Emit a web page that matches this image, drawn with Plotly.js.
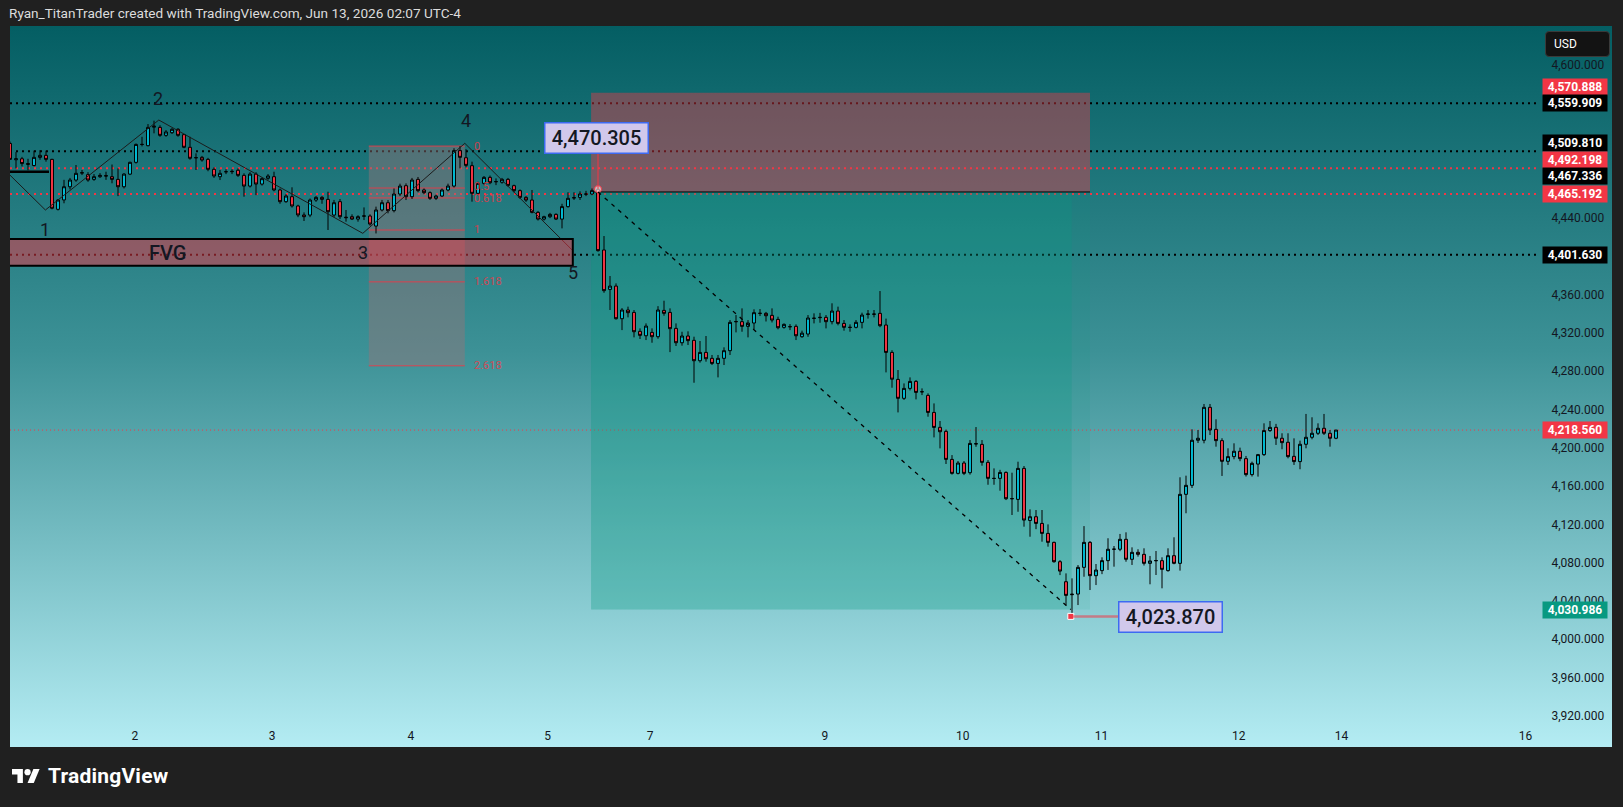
<!DOCTYPE html>
<html>
<head>
<meta charset="utf-8">
<script src="https://cdn.plot.ly/plotly-3.0.1.min.js"></script>
<style>
  html, body { margin:0; padding:0; background:#202020; width:1623px; height:807px; overflow:hidden; }
  #bg { position:absolute; left:10px; top:26px; width:1602px; height:721px;
        background: linear-gradient(to bottom, rgb(4,94,99) 0%, rgb(60,145,150) 45%, rgb(180,236,243) 100%); }
  #chart { position:absolute; left:0; top:0; width:1623px; height:807px; }
  #hdr { position:absolute; left:9px; top:5px; font:13.6px Roboto, sans-serif; color:#dcdcdc; white-space:nowrap; }
  #usd { position:absolute; left:1545px; top:31px; width:55px; height:24px; background:#131313; border:1px solid #3a3a3a;
         border-radius:4px; color:#fff; font:12px Roboto, sans-serif; line-height:24px; padding-left:8px; }
  #logo { position:absolute; left:12px; top:763px; height:26px; display:flex; align-items:center; color:#fff;
          font:bold 21px Roboto, sans-serif; letter-spacing:0.2px; }
  #logo svg { margin-right:8px; }
</style>
</head>
<body>
<div id="bg"></div>
<div id="chart"></div>
<div id="hdr">Ryan_TitanTrader created with TradingView.com, Jun 13, 2026 02:07 UTC-4</div>
<div id="usd">USD</div>
<div id="logo"><svg width="28" height="21" viewBox="0 0 36 27"><path d="M14 22H7V11H0V4h14v18z" fill="#fff"/><circle cx="20" cy="8" r="4" fill="#fff"/><path d="M28 22h-8l7.5-18h8L28 22z" fill="#fff"/></svg>TradingView</div>
<script>
// ---- hourly candles ----
const open = [4518,4501,4502,4496,4495,4503.5,4505.6,4501.4,4449.2,4459,4472.8,4479.8,4487,4485.4,4480.5,4483.3,4484.5,4483.3,4480.5,4472.8,
4486,4498.3,4517,4515.7,4535,4534.8,4526.5,4529.3,4532.8,4527.2,4514,4503,4503.5,4501.4,4491,4483.3,4488.5,4488.5,4490,4484.7,
4473.5,4486,4475.6,4481.6,4483.3,4469.4,4457.2,4462.4,4452.7,4443.3,4443.2,4458.9,4461.7,4459.6,4443.2,4457.2,4441,4441.5,4439,4442,
4442.2,4431.7,4448.5,4456.1,4447.8,4465.2,4473.9,4462.4,4480.5,4469.4,4466.6,4460.7,4463.1,4469.4,4473.5,4510.5,4503.1,4494.8,4465.9,4476.3,
4482.6,4478,4477.5,4480.5,4473.9,4468.7,4461.7,4458.9,4446,4439,4441.5,4443.9,4439,4452,4461,4461.7,4465,4465.2,4470,4406.7,
4365.5,4369,4334.9,4344,4341.5,4321.7,4317.1,4320.6,4316.1,4343.6,4341.5,4324.8,4309.8,4316.8,4312.3,4291,4299.7,4293.5,4288.2,4293.5,
4301.5,4332,4331.8,4326.9,4330.4,4340.5,4340.5,4338.4,4334.2,4325.9,4326.7,4326.9,4316.1,4318.9,4335.2,4336,4336.3,4331.8,4342.9,4330,
4325.9,4325.9,4331.1,4339.4,4339.8,4340.5,4328.3,4299.7,4271.5,4251.7,4262.1,4269.4,4258.5,4254.8,4237,4221.4,4217.2,4187.9,4173.3,4184.1,
4174,4204,4203.6,4184.8,4168.1,4168.1,4174.3,4147,4146.1,4178.5,4124.1,4128,4121,4110.6,4101.2,4081,4060.1,4046.5,4047.2,4075.1,
4101.2,4066.4,4071.7,4082.1,4094,4094,4104.4,4083.5,4090.8,4088.7,4079.3,4082,4082.1,4071.7,4087.3,4079.3,4151.4,4160.8,4207.9,4207.9,
4242.3,4219.3,4207.5,4185.9,4190.8,4196.4,4188.7,4172,4183,4192.9,4218,4221.4,4210,4205.8,4191.1,4185.6,4203.7,4211,4215.2,4220.4,
4215.2,4210];
const high = [4520,4509,4504,4502,4510.5,4511,4510.5,4502,4460,4480,4482,4495.5,4490.3,4488,4486,4487,4488.5,4496,4492,4487,
4499,4518,4525,4538.3,4541.8,4537,4532,4534,4534,4528,4525,4507.7,4505,4503,4493,4490.3,4491,4491,4492,4486.8,
4488,4488,4482.5,4486,4488.5,4471,4465,4472.2,4454,4446,4460.5,4463,4463,4467.6,4459,4460,4448.5,4444,4443,4451.2,
4444,4452,4459,4458.9,4471,4476,4476.3,4482,4483,4471,4468,4464.5,4471,4476,4513,4515.3,4512,4499,4478,4484,
4484.5,4481.5,4482,4482,4475,4470,4463,4469.4,4447.5,4442.5,4445.5,4445,4455,4467,4467,4468,4468.5,4471,4470.305,4421.3,
4379.5,4371.8,4346,4347.5,4344,4324.8,4330,4324.8,4348,4353.7,4345.7,4330,4321.3,4321.7,4316.1,4311.6,4316.8,4297,4297,4305,
4333.5,4338.7,4345.7,4333.5,4344.7,4345,4342,4345.7,4337,4330,4329.3,4329,4322.4,4338.7,4340.5,4341,4338.7,4351,4347.5,4333.5,
4329,4333.5,4341.2,4344,4344,4363.8,4335,4302,4281.3,4267.3,4273.6,4270.8,4262.1,4256.9,4246.4,4228,4219,4192.4,4186.2,4186.2,
4208.1,4221.7,4208.1,4187.2,4178.5,4177,4175.4,4174,4185.5,4181,4135.7,4135,4135,4120,4102,4082.7,4068.8,4063.6,4077.5,4118.2,
4102.6,4078.6,4085.6,4105.5,4097.4,4110,4111.7,4096,4094,4095,4087,4092.2,4085.6,4095,4106.5,4169.2,4170.9,4219.3,4218.6,4245.8,
4245.8,4229.8,4210,4199.5,4204.7,4200.2,4191.5,4185.6,4193.6,4225.6,4228,4225,4215.2,4215.2,4209.9,4207.5,4235.4,4231.9,4225.6,4235.4,
4218.6,4218.6];
const low = [4501,4492,4494,4490,4494,4501,4499,4449.2,4448,4455.5,4470,4478,4485,4478,4479,4482,4480,4476.4,4463,4471,
4485,4497,4515,4515,4528.6,4525,4525,4528,4525,4513,4501,4490.3,4499,4489,4482,4479.8,4486,4486,4483,4462.4,
4472,4464,4474,4480,4468,4455,4456,4451,4441,4437,4441,4457,4455,4427.6,4441,4439,4436.3,4438,4436.3,4438,
4432,4424,4447,4445,4446,4463,4458.9,4460,4467,4465,4459,4458.9,4462,4468,4472,4492,4493,4457.2,4464,4475,
4475.5,4474.5,4476,4472.8,4467,4460,4457,4445,4437.5,4437.5,4440,4438,4429.3,4451,4459,4459,4463,4464,4405,4362,
4344,4334,4323,4336.3,4315.4,4313.7,4312.6,4309.8,4314,4338,4300,4306.4,4306.7,4307.4,4268,4289,4290,4286.5,4273.6,4286.5,
4297,4320.6,4321.3,4315.4,4323.8,4337.7,4332,4331,4323.8,4324.5,4323,4312.6,4315,4316,4330,4330.7,4324.8,4329,4328,4322.4,
4321.3,4324.8,4324.8,4335,4336.3,4326,4278.8,4262.8,4237,4250,4260,4250.6,4255.1,4232.5,4210.9,4199.4,4183.1,4172,4172.2,4171.5,
4172,4201.1,4181.3,4161.4,4161.4,4155.2,4145.4,4129.8,4133.2,4117.6,4107.1,4115,4101.9,4096.7,4080,4067,4035.7,4023.87,4035.7,4065.3,
4051.4,4056.6,4068,4072.4,4075.8,4092,4081,4077.6,4086.3,4077,4057.4,4067.1,4053.2,4070.6,4078.3,4071.7,4131.6,4158,4205,4204.7,
4213.4,4201.2,4170.6,4182.1,4188,4186,4170,4170,4169.9,4191.5,4216.6,4203,4198.5,4189,4182.1,4177.6,4199.5,4208.9,4213.4,4213.4,
4201.2,4209];
const close = [4501.4,4502,4497,4497,4503.5,4505.6,4501.4,4450.3,4458.9,4472.8,4479.8,4486.8,4487.5,4479.8,4483.3,4484.7,4484,4480.5,4472.8,4486,
4498.3,4517,4517,4534.8,4536,4526.5,4530,4532.8,4526.5,4514,4502.5,4503.2,4500.7,4491,4484,4486.8,4488.5,4488.8,4484.7,4473.5,
4486,4475.6,4481.2,4484,4469.4,4457.2,4463.1,4452.7,4443.3,4441.5,4458.9,4461.7,4459.6,4446.7,4456.1,4441.5,4440.5,4439,4441.5,4442.3,
4433.8,4448.5,4456.1,4447.8,4465.2,4473.5,4462.4,4479.8,4468.7,4466.6,4460.7,4463.1,4469.4,4473.5,4510.5,4503.5,4495.1,4465.9,4476.3,4482.6,
4477,4478.2,4480.5,4474.2,4468.7,4461.7,4458.9,4446,4439,4441.5,4443.9,4439,4452,4460.7,4461.4,4465.2,4465.2,4468.7,4406,4364.2,
4369,4334.9,4344,4341.2,4321.3,4317.5,4327.2,4316.1,4344,4340.5,4324.5,4309.8,4316.8,4312,4291,4299.7,4293.1,4288.2,4293.5,4301.5,
4331.1,4331.8,4326.9,4330.4,4341.2,4340.5,4338,4333.5,4325.5,4329,4326.5,4317.1,4319.8,4335.6,4335.4,4336.3,4331.8,4342.9,4330,4325.9,
4325.8,4331.1,4338.7,4339.8,4339.6,4327.6,4299.7,4271.7,4251.7,4262.1,4269.4,4257.9,4258.6,4237,4221.3,4216.8,4187.9,4173.3,4184.1,4173.3,
4204.6,4204.3,4184.8,4168.1,4168,4174.3,4146.8,4146.8,4178.5,4124.5,4128,4121,4110.6,4101.2,4081,4071.2,4045.8,4047,4075.1,4101.2,
4066.4,4072.3,4082.1,4094,4094.1,4104.4,4083.5,4090.8,4088.7,4079.3,4081.8,4082.2,4073,4087.3,4079.3,4151.4,4160.8,4207.9,4210,4242.3,
4218.6,4207.5,4185.9,4190.8,4196.4,4188.7,4172,4183.8,4192.9,4218,4221.4,4210,4205.4,4190.8,4185.6,4203.7,4211,4215.2,4220.4,4215.2,
4210,4218.56];

// ---- time scale ----
const dayLabels = ['2','3','4','5','7','9','10','11','12','14','16'];
const dayBars   = [20.8, 43.7, 66.8, 89.6, 106.7, 135.8, 158.8, 181.9, 204.8, 221.9, 252.6];

// ---- price scale ticks (TradingView hides those under the price labels) ----
const priceTicks = [4600, 4440, 4360, 4320, 4280, 4240, 4200, 4160, 4120, 4080, 4040, 4000, 3960, 3920];

// ---- horizontal levels & price-scale labels ----
const dottedLevels = [4559.909, 4509.810, 4492.198, 4465.192, 4401.630];
const dottedColors = ['#000000', '#000000', '#f23645', '#f23645', '#000000'];
const lastPrice = 4218.560;
const scaleLabelValues = [4570.888, 4559.909, 4509.810, 4492.198, 4467.336, 4465.192, 4401.630, 4218.560, 4030.986];
const scaleLabelColors = ['#f23645', '#000000', '#000000', '#f23645', '#000000', '#f23645', '#000000', '#f23645', '#089981'];
const scaleLabelShift  = [5.6, 0, 8, 8.5, 15.7, 0, 0, 0, 0];

// ---- short position tool ----
const posStartBar = 96.85, posEndBar = 180, posHitBar = 176.95;
const posEntry = 4467.336, posStop = 4570.888, posTarget = 4030.986;
const entryBar = 98, entryHigh = 4470.305;
const lowBar = 176.8, lowPrice = 4023.870;

// ---- Elliott waves ----
const waveBars   = [-0.5, 5.9, 24.8, 58.8, 75.8, 93.8];
const wavePrices = [4488, 4448.5, 4542.5, 4424.1, 4518.2, 4406];
const waveNames  = ['1','2','3','4','5'];
const waveLabelBars   = [5.75, 24.7, 58.8, 76, 93.75];
const waveLabelPrices = [4427.6, 4565.5, 4404, 4541.5, 4382.7];

// ---- FVG ----
const fvgStart = -5, fvgEnd = 93.8, fvgTop = 4418.2, fvgBottom = 4390.3;

// ---- Fibonacci ----
const fibStart = 59.8, fibEnd = 75.8, fib0 = 4515.3, fib1 = 4427.6;
const fibLevels = [0, 0.5, 0.618, 1, 1.618, 2.618];
const fibLabelShift = [0, 1.5, -1, 0, 0, 0];

const x = open.map((_, i) => i);
const fibPrice = l => fib0 - l * (fib0 - fib1);

const shapes = [];
const annotations = [];

// fib background
shapes.push({type:'rect', xref:'x', yref:'y', x0:fibStart, x1:fibEnd, y0:fibPrice(2.618), y1:fib0,
  fillcolor:'rgba(150,115,120,0.45)', line:{width:0}, layer:'below'});
fibLevels.forEach((l, k) => {
  shapes.push({type:'line', xref:'x', yref:'y', x0:fibStart, x1:fibEnd, y0:fibPrice(l), y1:fibPrice(l),
    line:{color:'rgba(242,54,69,0.85)', width:1}, layer:'below'});
  annotations.push({xref:'x', yref:'y', x:fibEnd + 1.2, y:fibPrice(l), yshift:fibLabelShift[k], text:String(l), showarrow:false,
    xanchor:'left', yanchor:'middle', font:{family:'Roboto', size:11, color:'rgba(242,54,69,0.8)'}});
});

// dotted horizontal levels
dottedLevels.forEach((v, k) => {
  shapes.push({type:'line', xref:'paper', yref:'y', x0:0, x1:1, y0:v, y1:v,
    line:{color:dottedColors[k], width:2, dash:'2px,4px'}, layer:'below'});
});
shapes.push({type:'line', xref:'paper', yref:'y', x0:0, x1:1, y0:lastPrice, y1:lastPrice,
  line:{color:'#f23645', width:1, dash:'1px,3px'}, layer:'below'});

// position tool
shapes.push({type:'rect', xref:'x', yref:'y', x0:posStartBar, x1:posEndBar, y0:posEntry, y1:posStop,
  fillcolor:'rgba(242,54,69,0.42)', line:{width:0}, layer:'below'});
shapes.push({type:'rect', xref:'x', yref:'y', x0:posStartBar, x1:posEndBar, y0:posTarget, y1:posEntry,
  fillcolor:'rgba(8,153,129,0.10)', line:{width:0}, layer:'below'});
shapes.push({type:'rect', xref:'x', yref:'y', x0:posStartBar, x1:posHitBar, y0:posTarget, y1:posEntry,
  fillcolor:'rgba(8,153,129,0.24)', line:{width:0}, layer:'below'});
shapes.push({type:'line', xref:'x', yref:'y', x0:posStartBar, x1:posEndBar, y0:posEntry, y1:posEntry,
  line:{color:'#000', width:1}, layer:'below'});
shapes.push({type:'line', xref:'x', yref:'y', x0:entryBar, x1:lowBar, y0:posEntry, y1:posTarget,
  line:{color:'#000', width:1.3, dash:'4px,5px'}, layer:'above'});

// FVG
shapes.push({type:'rect', xref:'x', yref:'y', x0:fvgStart, x1:fvgEnd, y0:fvgBottom, y1:fvgTop,
  fillcolor:'rgba(242,54,69,0.5)', line:{color:'#000', width:2}, layer:'above'});
annotations.push({xref:'x', yref:'y', x:26.3, y:4404, text:'FVG', showarrow:false,
  font:{family:'Roboto', size:20, color:'#131722', weight:500}});

// thick segment at left
shapes.push({type:'line', xref:'x', yref:'y', x0:-1, x1:6.5, y0:4488.5, y1:4488.5,
  line:{color:'#000', width:2.5}, layer:'above'});

// callout pointers
shapes.push({type:'line', xref:'x', yref:'y', x0:entryBar, x1:entryBar, y0:entryHigh, y1:4507,
  line:{color:'#f23645', width:1}, layer:'above'});
shapes.push({type:'line', xref:'x', yref:'y', x0:lowBar, x1:184.8, y0:lowPrice, y1:lowPrice,
  line:{color:'rgba(242,54,69,0.55)', width:2.5}, layer:'above'});

// wave labels
waveNames.forEach((t, k) => annotations.push({xref:'x', yref:'y', x:waveLabelBars[k], y:waveLabelPrices[k], text:t,
  showarrow:false, font:{family:'Roboto', size:18, color:'#131722'}}));

// callouts
annotations.push({xref:'x', yref:'y', x:97.8, y:4523.7, text:'4,470.305', showarrow:false,
  font:{family:'Roboto', size:20, color:'#131722', weight:500}, bgcolor:'#d1c8eb', bordercolor:'#3d6af2', borderwidth:1.5,
  borderpad:3.5, width:95, height:22});
annotations.push({xref:'x', yref:'y', x:193.47, y:4023.2, text:'4,023.870', showarrow:false,
  font:{family:'Roboto', size:20, color:'#131722', weight:500}, bgcolor:'#d1c8eb', bordercolor:'#3d6af2', borderwidth:1.5,
  borderpad:3.5, width:95, height:22});

// price-scale labels
scaleLabelValues.forEach((v, k) => annotations.push({xref:'paper', yref:'y', x:(1575 - 10) / 1530, y:v,
  yshift:scaleLabelShift[k], text:v.toLocaleString('en-US', {minimumFractionDigits:3}), showarrow:false,
  xanchor:'center', yanchor:'middle', bgcolor:scaleLabelColors[k], width:62, height:14, borderpad:1,
  font:{family:'Roboto', size:12, color:'#ffffff', weight:'bold'}}));

const traces = [
  {type:'candlestick', x:x, open:open, high:high, low:low, close:close, hoverinfo:'skip', whiskerwidth:0,
   increasing:{fillcolor:'#00bcd4', line:{color:'#000', width:1}},
   decreasing:{fillcolor:'#f23645', line:{color:'#000', width:1}}, showlegend:false},
  {type:'scatter', mode:'lines', x:waveBars, y:wavePrices, line:{color:'#1b1b1b', width:1}, hoverinfo:'skip', showlegend:false},
  {type:'scatter', mode:'markers', x:[entryBar], y:[entryHigh], marker:{symbol:'circle', size:7, color:'rgba(255,255,255,0.6)', line:{color:'#f23645', width:1}}, hoverinfo:'skip', showlegend:false},
  {type:'scatter', mode:'markers', x:[lowBar], y:[lowPrice], marker:{symbol:'square', size:6, color:'#f23645', line:{color:'#ffffff', width:1}}, hoverinfo:'skip', showlegend:false}
];

const layout = {
  width:1623, height:807,
  margin:{l:10, r:83, t:26, b:87},
  paper_bgcolor:'rgba(0,0,0,0)', plot_bgcolor:'rgba(0,0,0,0)',
  showlegend:false,
  xaxis:{range:[0, 255], tickmode:'array', tickvals:dayBars, ticktext:dayLabels, showgrid:false, zeroline:false,
    showline:false, ticks:'outside', ticklen:5, tickcolor:'rgba(0,0,0,0)', rangeslider:{visible:false},
    tickfont:{family:'Roboto', size:12, color:'#131722'}, fixedrange:true},
  yaxis:{range:[3915.6, 4640.75], side:'right', tickmode:'array', tickvals:priceTicks, tickformat:',.3f',
    showgrid:false, zeroline:false, showline:false, ticks:'outside', ticklen:8, tickcolor:'rgba(0,0,0,0)',
    tickfont:{family:'Roboto', size:12, color:'#131722'}, fixedrange:true},
  shapes:shapes, annotations:annotations
};
Plotly.newPlot('chart', traces, layout, {displayModeBar:false, staticPlot:true});
</script>
</body>
</html>
